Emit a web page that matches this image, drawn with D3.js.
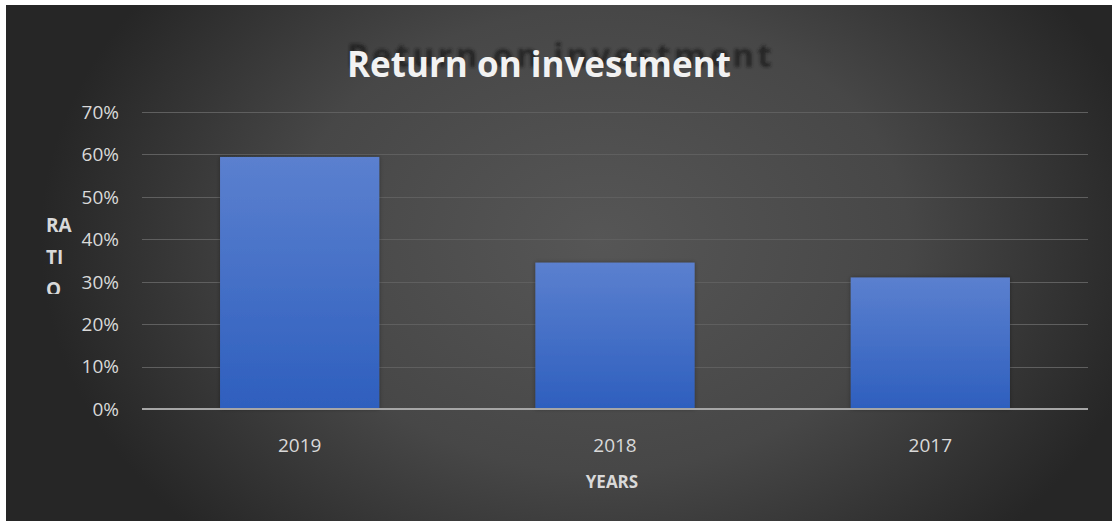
<!DOCTYPE html>
<html>
<head>
<meta charset="utf-8">
<script src="https://cdn.jsdelivr.net/npm/d3@7/dist/d3.min.js"></script>
<style>
  html, body { margin: 0; padding: 0; background: #ffffff; }
  svg { display: block; }
</style>
</head>
<body>
<div id="chart"></div>
<script>
// Return on investment by year
const years = ["2019", "2018", "2017"];
const roi = [0.594, 0.345, 0.31];
const yTicks = [0, 0.1, 0.2, 0.3, 0.4, 0.5, 0.6, 0.7];
const titleText = "Return on investment";
const xTitle = "YEARS";
const yTitleLines = ["RA", "TI", "O"];

const W = 1112, H = 521;
const plot = { left: 142, right: 1088, top: 112, bottom: 409 };
const font = "'Open Sans', Lato, sans-serif";

const svg = d3.select("#chart").append("svg")
  .attr("width", W).attr("height", H);

const defs = svg.append("defs");

// dark radial backdrop
const bg = defs.append("radialGradient")
  .attr("id", "bgGrad")
  .attr("gradientUnits", "userSpaceOnUse")
  .attr("cx", 600).attr("cy", 240).attr("r", 560)
  .attr("gradientTransform", "translate(600,240) scale(1,0.75) translate(-600,-240)");
bg.append("stop").attr("offset", "0%").attr("stop-color", "#565656");
bg.append("stop").attr("offset", "55%").attr("stop-color", "#474747");
bg.append("stop").attr("offset", "100%").attr("stop-color", "#262626");

// bar fill: lighter at top, deeper blue at the base
const barGrad = defs.append("linearGradient")
  .attr("id", "barGrad").attr("x1", 0).attr("y1", 0).attr("x2", 0).attr("y2", 1);
barGrad.append("stop").attr("offset", "0%").attr("stop-color", "#5b80cf");
barGrad.append("stop").attr("offset", "100%").attr("stop-color", "#2e5fbe");

const blur = defs.append("filter").attr("id", "ghostBlur")
  .attr("x", "-10%").attr("y", "-50%").attr("width", "120%").attr("height", "200%");
blur.append("feGaussianBlur").attr("stdDeviation", 1.8);

const soft = defs.append("filter").attr("id", "barShadow")
  .attr("x", "-10%").attr("y", "-10%").attr("width", "120%").attr("height", "120%");
soft.append("feDropShadow").attr("dx", 0).attr("dy", 0).attr("stdDeviation", 2)
  .attr("flood-color", "#000").attr("flood-opacity", 0.35);

svg.append("rect").attr("x", 6).attr("y", 5).attr("width", W - 6).attr("height", H - 5)
  .attr("fill", "url(#bgGrad)");

const x = d3.scaleBand().domain(years).range([plot.left, plot.right])
  .paddingInner(0.495).paddingOuter(0.2475);
const y = d3.scaleLinear().domain([0, 0.7]).range([plot.bottom, plot.top]);

// gridlines
svg.append("g").selectAll("line").data(yTicks.filter(d => d > 0)).join("line")
  .attr("x1", plot.left).attr("x2", plot.right)
  .attr("y1", d => Math.round(y(d)) + 0.5).attr("y2", d => Math.round(y(d)) + 0.5)
  .attr("stroke", "#5f5f5f").attr("stroke-width", 1);

// y tick labels
const fmt = d3.format(".0%");
svg.append("g").selectAll("text").data(yTicks).join("text")
  .attr("x", 119).attr("y", d => y(d))
  .attr("dy", "0.36em")
  .attr("text-anchor", "end")
  .attr("font-family", font).attr("font-size", 19)
  .attr("fill", "#d9d9d9")
  .text(d => fmt(d));

// bars
svg.append("g").selectAll("rect").data(years).join("rect")
  .attr("x", d => x(d))
  .attr("y", (d, i) => y(roi[i]))
  .attr("width", x.bandwidth())
  .attr("height", (d, i) => y(0) - y(roi[i]))
  .attr("fill", "url(#barGrad)")
  .attr("filter", "url(#barShadow)");

// baseline
svg.append("line")
  .attr("x1", plot.left).attr("x2", plot.right)
  .attr("y1", plot.bottom).attr("y2", plot.bottom)
  .attr("stroke", "#a6a6a6").attr("stroke-width", 2);

// x tick labels
svg.append("g").selectAll("text").data(years).join("text")
  .attr("x", d => x(d) + x.bandwidth() / 2)
  .attr("y", 445).attr("dy", "0.36em")
  .attr("text-anchor", "middle")
  .attr("font-family", font).attr("font-size", 19)
  .attr("fill", "#d9d9d9")
  .text(d => d);

// axis titles
svg.append("text")
  .attr("x", (plot.left + plot.right) / 2 - 3).attr("y", 482).attr("dy", "0.36em")
  .attr("text-anchor", "middle")
  .attr("font-family", font).attr("font-size", 17).attr("font-weight", 700)
  .attr("fill", "#d9d9d9")
  .text(xTitle);

defs.append("clipPath").attr("id", "yTitleClip")
  .append("rect").attr("x", 0).attr("y", 200).attr("width", 120).attr("height", 94);
svg.append("g").attr("clip-path", "url(#yTitleClip)")
  .selectAll("text").data(yTitleLines).join("text")
  .attr("x", 46).attr("y", (d, i) => 232 + i * 32)
  .attr("font-family", font).attr("font-size", 19).attr("font-weight", 700)
  .attr("fill", "#d9d9d9")
  .text(d => d);

// title with its soft dark echo behind
svg.append("text")
  .attr("x", 347).attr("y", 67)
  .attr("font-family", font).attr("font-size", 33).attr("font-weight", 700)
  .attr("letter-spacing", 3.3)
  .attr("fill", "#1a1a1a").attr("opacity", 0.8)
  .attr("filter", "url(#ghostBlur)")
  .text(titleText);

svg.append("text")
  .attr("x", 347).attr("y", 77)
  .attr("font-family", font).attr("font-size", 35).attr("font-weight", 700)
  .attr("fill", "#f2f2f2")
  .text(titleText);
</script>
</body>
</html>
